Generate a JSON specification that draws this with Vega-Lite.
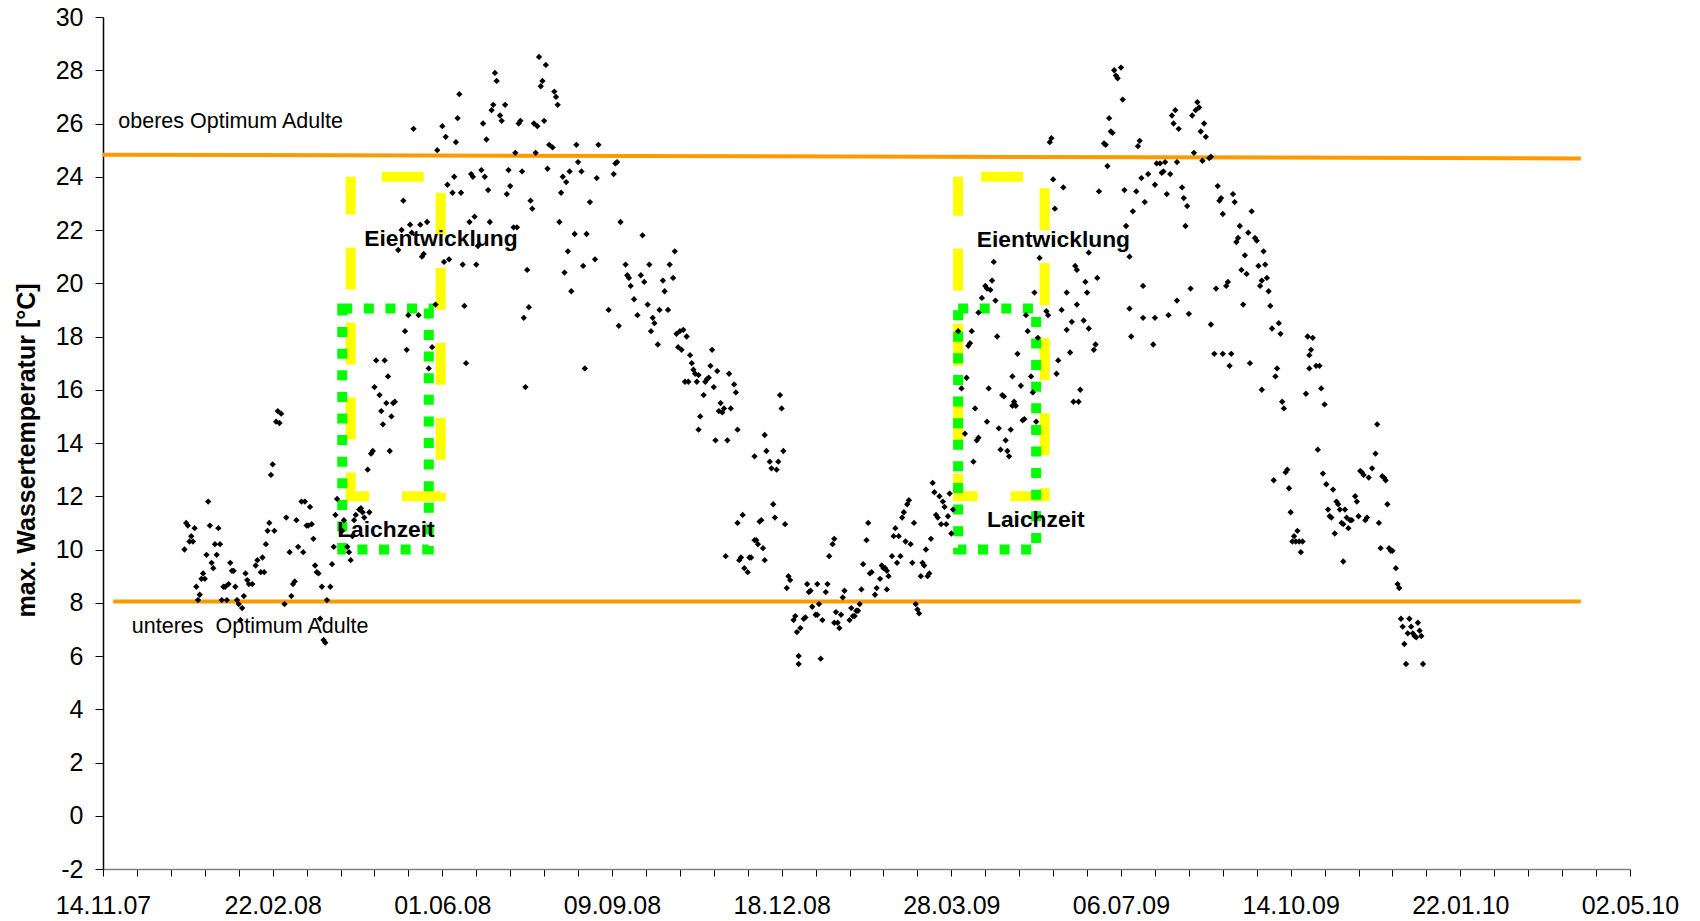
{
  "$schema": "https://vega.github.io/schema/vega-lite/v6.json",
  "width": 1527,
  "height": 852,
  "autosize": "none",
  "padding": {"left": 103, "top": 17, "right": 70, "bottom": 52},
  "background": "white",
  "config": {"view": {"stroke": null}, "font": "Liberation Sans"},
  "encoding": {
    "x": {
      "field": "date", "type": "temporal",
      "scale": {"type": "utc", "domain": [1194998400000, 1272758400000]},
      "axis": {
        "title": null, "grid": false,
        "values": [1194998400000,1196726400000,1198454400000,1200182400000,1201910400000,1203638400000,1205366400000,1207094400000,1208822400000,1210550400000,1212278400000,1214006400000,1215734400000,1217462400000,1219190400000,1220918400000,1222646400000,1224374400000,1226102400000,1227830400000,1229558400000,1231286400000,1233014400000,1234742400000,1236470400000,1238198400000,1239926400000,1241654400000,1243382400000,1245110400000,1246838400000,1248566400000,1250294400000,1252022400000,1253750400000,1255478400000,1257206400000,1258934400000,1260662400000,1262390400000,1264118400000,1265846400000,1267574400000,1269302400000,1271030400000,1272758400000],
        "labelExpr": "round((datum.value - 1194998400000) / 86400000) % 100 == 0 ? utcFormat(datum.value, '%d.%m.%y') : ''",
        "domainColor": "#808080", "domainWidth": 1.5,
        "tickColor": "#000000", "tickSize": 7, "tickWidth": 1,
        "labelFontSize": 25, "labelColor": "#000000", "labelPadding": 17, "labelFont": "Liberation Sans",
        "labelOverlap": false, "labelFlush": false, "labelBound": false
      }
    },
    "y": {
      "field": "temp", "type": "quantitative",
      "scale": {"domain": [-2, 30], "nice": false, "zero": false},
      "axis": {
        "values": [-2,0,2,4,6,8,10,12,14,16,18,20,22,24,26,28,30],
        "labelExpr": "datum.value < 0 ? '-' + abs(datum.value) : '' + datum.value",
        "title": "max. Wassertemperatur [°C]",
        "titleFontSize": 25, "titleFontWeight": "bold", "titleFont": "Liberation Sans", "titleColor": "#000000",
        "titleX": -77, "titleY": 433, "titleAngle": -90, "titleAlign": "center", "titleBaseline": "middle",
        "grid": false, "domainColor": "#000000", "domainWidth": 1.5, "tickColor": "#000000", "tickSize": 8,
        "labelFontSize": 25, "labelPadding": 12, "labelColor": "#000000", "labelFont": "Liberation Sans"
      }
    }
  },
  "layer": [
    {
      "data": {"values": [{"date": "2008-04-08", "date2": "2008-05-31", "temp": 24, "temp2": 12}]},
      "mark": {"type": "rect", "fill": "#FFFF00", "fillOpacity": 0, "stroke": "#FFFF00", "strokeWidth": 10, "strokeDash": [42, 33], "strokeDashOffset": 44},
      "encoding": {"x2": {"field": "date2"}, "y2": {"field": "temp2"}}
    },
    {
      "data": {"values": [{"date": "2009-04-01", "date2": "2009-05-22", "temp": 24, "temp2": 12}]},
      "mark": {"type": "rect", "fill": "#FFFF00", "fillOpacity": 0, "stroke": "#FFFF00", "strokeWidth": 10, "strokeDash": [42, 33], "strokeDashOffset": 52},
      "encoding": {"x2": {"field": "date2"}, "y2": {"field": "temp2"}}
    },
    {
      "data": {"values": [
        {"date": "2008-04-03", "date2": "2008-05-24", "temp": 19.05, "temp2": 10},
        {"date": "2009-04-01", "date2": "2009-05-17", "temp": 19.05, "temp2": 10}
      ]},
      "mark": {"type": "rect", "fill": "#00FF00", "fillOpacity": 0, "stroke": "#00FF00", "strokeWidth": 10, "strokeDash": [10, 11.6]},
      "encoding": {"x2": {"field": "date2"}, "y2": {"field": "temp2"}}
    },
    {
      "data": {"values": [
        {"line": "oben", "date": "2007-11-14", "temp": 24.83},
        {"line": "oben", "date": "2010-04-03", "temp": 24.69},
        {"line": "unten", "date": "2007-11-20", "temp": 8.05},
        {"line": "unten", "date": "2010-04-03", "temp": 8.05}
      ]},
      "mark": {"type": "line", "color": "#FF9900", "strokeWidth": 4},
      "encoding": {"detail": {"field": "line", "type": "nominal"}}
    },
    {
      "data": {"values": [
{"date":"2008-01-01","temp":10.0},{"date":"2008-01-02","temp":11.0},{"date":"2008-01-03","temp":10.9},{"date":"2008-01-04","temp":10.3},{"date":"2008-01-05","temp":10.5},{"date":"2008-01-06","temp":10.3},{"date":"2008-01-07","temp":10.8},{"date":"2008-01-08","temp":8.6},{"date":"2008-01-09","temp":8.1},{"date":"2008-01-10","temp":8.3},{"date":"2008-01-11","temp":8.9},{"date":"2008-01-12","temp":9.1},{"date":"2008-01-13","temp":8.9},{"date":"2008-01-14","temp":9.8},{"date":"2008-01-15","temp":11.8},{"date":"2008-01-16","temp":10.9},{"date":"2008-01-17","temp":9.5},{"date":"2008-01-18","temp":9.3},{"date":"2008-01-19","temp":10.2},{"date":"2008-01-20","temp":9.8},{"date":"2008-01-21","temp":10.8},{"date":"2008-01-22","temp":10.2},{"date":"2008-01-23","temp":8.1},{"date":"2008-01-24","temp":8.6},{"date":"2008-01-25","temp":8.6},{"date":"2008-01-26","temp":8.1},{"date":"2008-01-27","temp":8.7},{"date":"2008-01-28","temp":9.5},{"date":"2008-01-29","temp":9.2},{"date":"2008-01-30","temp":9.2},{"date":"2008-01-31","temp":8.6},
{"date":"2008-02-01","temp":8.1},{"date":"2008-02-02","temp":7.95},{"date":"2008-02-03","temp":7.35},{"date":"2008-02-04","temp":7.8},{"date":"2008-02-05","temp":8.25},{"date":"2008-02-06","temp":9.1},{"date":"2008-02-07","temp":8.85},{"date":"2008-02-08","temp":8.7},{"date":"2008-02-10","temp":8.7},{"date":"2008-02-12","temp":9.4},{"date":"2008-02-13","temp":9.6},{"date":"2008-02-15","temp":9.15},{"date":"2008-02-16","temp":9.7},{"date":"2008-02-17","temp":9.15},{"date":"2008-02-18","temp":10.2},{"date":"2008-02-19","temp":10.7},{"date":"2008-02-20","temp":11.0},{"date":"2008-02-21","temp":12.8},{"date":"2008-02-22","temp":13.2},{"date":"2008-02-23","temp":10.7},{"date":"2008-02-24","temp":14.8},{"date":"2008-02-25","temp":15.2},{"date":"2008-02-26","temp":14.75},{"date":"2008-02-27","temp":15.1},{"date":"2008-02-29","temp":7.95},
{"date":"2008-03-01","temp":11.2},{"date":"2008-03-03","temp":9.9},{"date":"2008-03-04","temp":8.25},{"date":"2008-03-05","temp":8.7},{"date":"2008-03-06","temp":8.8},{"date":"2008-03-07","temp":11.1},{"date":"2008-03-08","temp":10.1},{"date":"2008-03-10","temp":11.8},{"date":"2008-03-11","temp":9.9},{"date":"2008-03-12","temp":11.8},{"date":"2008-03-13","temp":10.9},{"date":"2008-03-14","temp":10.9},{"date":"2008-03-15","temp":11.6},{"date":"2008-03-16","temp":10.95},{"date":"2008-03-17","temp":10.4},{"date":"2008-03-18","temp":9.4},{"date":"2008-03-19","temp":9.15},{"date":"2008-03-20","temp":9.1},{"date":"2008-03-21","temp":7.4},{"date":"2008-03-22","temp":8.6},{"date":"2008-03-23","temp":6.6},{"date":"2008-03-24","temp":6.5},{"date":"2008-03-25","temp":8.1},{"date":"2008-03-27","temp":8.6},{"date":"2008-03-28","temp":9.45},{"date":"2008-03-29","temp":10.1},{"date":"2008-03-30","temp":11.3},{"date":"2008-03-31","temp":11.9},
{"date":"2008-04-03","temp":10.7},{"date":"2008-04-04","temp":11.1},{"date":"2008-04-06","temp":10.1},{"date":"2008-04-07","temp":9.9},{"date":"2008-04-08","temp":9.6},{"date":"2008-04-09","temp":10.5},{"date":"2008-04-10","temp":11.1},{"date":"2008-04-11","temp":11.3},{"date":"2008-04-13","temp":11.5},{"date":"2008-04-14","temp":11.55},{"date":"2008-04-15","temp":11.4},{"date":"2008-04-16","temp":11.2},{"date":"2008-04-18","temp":13.0},{"date":"2008-04-19","temp":11.4},{"date":"2008-04-20","temp":13.6},{"date":"2008-04-21","temp":13.7},{"date":"2008-04-22","temp":16.1},{"date":"2008-04-23","temp":17.1},{"date":"2008-04-25","temp":15.8},{"date":"2008-04-26","temp":15.2},{"date":"2008-04-27","temp":14.7},{"date":"2008-04-28","temp":17.1},{"date":"2008-04-29","temp":15.5},{"date":"2008-04-30","temp":16.5},
{"date":"2008-05-01","temp":13.7},{"date":"2008-05-02","temp":15.0},{"date":"2008-05-03","temp":15.5},{"date":"2008-05-04","temp":15.55},{"date":"2008-05-06","temp":21.25},{"date":"2008-05-08","temp":22.0},{"date":"2008-05-09","temp":23.1},{"date":"2008-05-10","temp":18.2},{"date":"2008-05-11","temp":17.5},{"date":"2008-05-12","temp":18.8},{"date":"2008-05-13","temp":22.2},{"date":"2008-05-14","temp":21.9},{"date":"2008-05-15","temp":25.8},{"date":"2008-05-18","temp":18.8},{"date":"2008-05-19","temp":22.2},{"date":"2008-05-20","temp":21.0},{"date":"2008-05-21","temp":21.1},{"date":"2008-05-23","temp":22.3},{"date":"2008-05-24","temp":16.8},{"date":"2008-05-26","temp":17.6},{"date":"2008-05-28","temp":19.2},{"date":"2008-05-29","temp":25.0},
{"date":"2008-06-01","temp":25.9},{"date":"2008-06-02","temp":20.8},{"date":"2008-06-03","temp":25.5},{"date":"2008-06-04","temp":23.7},{"date":"2008-06-05","temp":20.9},{"date":"2008-06-07","temp":23.4},{"date":"2008-06-08","temp":24.0},{"date":"2008-06-09","temp":25.3},{"date":"2008-06-10","temp":26.2},{"date":"2008-06-11","temp":27.1},{"date":"2008-06-12","temp":23.4},{"date":"2008-06-13","temp":20.7},{"date":"2008-06-14","temp":19.15},{"date":"2008-06-15","temp":17.0},{"date":"2008-06-17","temp":22.3},{"date":"2008-06-18","temp":24.1},{"date":"2008-06-19","temp":24.0},{"date":"2008-06-20","temp":22.5},{"date":"2008-06-21","temp":20.7},{"date":"2008-06-22","temp":21.4},{"date":"2008-06-24","temp":24.25},{"date":"2008-06-25","temp":26.0},{"date":"2008-06-26","temp":24.0},{"date":"2008-06-27","temp":25.4},{"date":"2008-06-28","temp":23.5},{"date":"2008-06-29","temp":22.3},{"date":"2008-06-30","temp":26.5},
{"date":"2008-07-01","temp":26.7},{"date":"2008-07-02","temp":27.9},{"date":"2008-07-03","temp":27.6},{"date":"2008-07-05","temp":26.3},{"date":"2008-07-06","temp":26.1},{"date":"2008-07-08","temp":26.7},{"date":"2008-07-09","temp":23.35},{"date":"2008-07-10","temp":24.25},{"date":"2008-07-11","temp":23.65},{"date":"2008-07-13","temp":22.1},{"date":"2008-07-14","temp":24.9},{"date":"2008-07-15","temp":22.1},{"date":"2008-07-16","temp":26.0},{"date":"2008-07-17","temp":26.1},{"date":"2008-07-18","temp":24.2},{"date":"2008-07-19","temp":18.7},{"date":"2008-07-20","temp":16.1},{"date":"2008-07-21","temp":20.5},{"date":"2008-07-22","temp":19.1},{"date":"2008-07-23","temp":23.1},{"date":"2008-07-24","temp":22.8},{"date":"2008-07-25","temp":26.0},{"date":"2008-07-26","temp":24.9},{"date":"2008-07-27","temp":25.9},{"date":"2008-07-28","temp":28.5},{"date":"2008-07-29","temp":27.4},{"date":"2008-07-30","temp":27.6},{"date":"2008-07-31","temp":26.1},
{"date":"2008-08-01","temp":28.2},{"date":"2008-08-02","temp":24.3},{"date":"2008-08-03","temp":25.2},{"date":"2008-08-05","temp":25.1},{"date":"2008-08-06","temp":27.2},{"date":"2008-08-07","temp":27.0},{"date":"2008-08-08","temp":26.7},{"date":"2008-08-09","temp":22.3},{"date":"2008-08-10","temp":23.4},{"date":"2008-08-11","temp":24.0},{"date":"2008-08-12","temp":20.4},{"date":"2008-08-13","temp":23.8},{"date":"2008-08-14","temp":21.2},{"date":"2008-08-15","temp":24.2},{"date":"2008-08-16","temp":19.7},{"date":"2008-08-18","temp":21.85},{"date":"2008-08-19","temp":25.2},{"date":"2008-08-20","temp":24.55},{"date":"2008-08-22","temp":24.2},{"date":"2008-08-23","temp":20.65},{"date":"2008-08-24","temp":16.8},{"date":"2008-08-25","temp":21.85},{"date":"2008-08-27","temp":23.05},{"date":"2008-08-30","temp":20.9},{"date":"2008-08-31","temp":23.95},
{"date":"2008-09-01","temp":25.2},{"date":"2008-09-07","temp":19.0},{"date":"2008-09-10","temp":24.1},{"date":"2008-09-11","temp":24.5},{"date":"2008-09-12","temp":24.55},{"date":"2008-09-13","temp":18.4},{"date":"2008-09-14","temp":22.3},{"date":"2008-09-17","temp":20.7},{"date":"2008-09-18","temp":20.3},{"date":"2008-09-19","temp":20.2},{"date":"2008-09-20","temp":19.9},{"date":"2008-09-22","temp":19.4},{"date":"2008-09-24","temp":18.8},{"date":"2008-09-26","temp":20.3},{"date":"2008-09-27","temp":21.8},{"date":"2008-09-28","temp":20.05},{"date":"2008-09-30","temp":19.2},
{"date":"2008-10-01","temp":20.7},{"date":"2008-10-02","temp":18.2},{"date":"2008-10-03","temp":18.7},{"date":"2008-10-04","temp":18.5},{"date":"2008-10-06","temp":17.7},{"date":"2008-10-07","temp":19.0},{"date":"2008-10-09","temp":20.1},{"date":"2008-10-10","temp":19.7},{"date":"2008-10-12","temp":19.0},{"date":"2008-10-13","temp":20.7},{"date":"2008-10-15","temp":20.2},{"date":"2008-10-16","temp":21.2},{"date":"2008-10-17","temp":18.1},{"date":"2008-10-18","temp":17.6},{"date":"2008-10-19","temp":18.2},{"date":"2008-10-20","temp":17.5},{"date":"2008-10-21","temp":18.25},{"date":"2008-10-22","temp":16.3},{"date":"2008-10-23","temp":18.0},{"date":"2008-10-24","temp":16.3},{"date":"2008-10-25","temp":17.3},{"date":"2008-10-26","temp":17.0},{"date":"2008-10-27","temp":16.75},{"date":"2008-10-28","temp":16.6},{"date":"2008-10-29","temp":16.3},{"date":"2008-10-30","temp":16.55},{"date":"2008-10-30","temp":14.5},{"date":"2008-10-31","temp":15.0},
{"date":"2008-11-02","temp":15.8},{"date":"2008-11-03","temp":16.3},{"date":"2008-11-04","temp":16.4},{"date":"2008-11-05","temp":16.45},{"date":"2008-11-06","temp":16.9},{"date":"2008-11-07","temp":17.5},{"date":"2008-11-08","temp":16.1},{"date":"2008-11-09","temp":14.1},{"date":"2008-11-10","temp":16.7},{"date":"2008-11-11","temp":15.2},{"date":"2008-11-12","temp":15.5},{"date":"2008-11-13","temp":15.15},{"date":"2008-11-14","temp":15.3},{"date":"2008-11-15","temp":9.75},{"date":"2008-11-16","temp":14.1},{"date":"2008-11-17","temp":16.6},{"date":"2008-11-18","temp":15.3},{"date":"2008-11-20","temp":16.2},{"date":"2008-11-21","temp":15.9},{"date":"2008-11-22","temp":14.5},{"date":"2008-11-22","temp":11.0},{"date":"2008-11-23","temp":9.6},{"date":"2008-11-24","temp":9.7},{"date":"2008-11-25","temp":11.3},{"date":"2008-11-26","temp":9.3},{"date":"2008-11-28","temp":9.15},{"date":"2008-11-29","temp":9.7},{"date":"2008-11-30","temp":9.7},
{"date":"2008-12-02","temp":13.5},{"date":"2008-12-02","temp":10.35},{"date":"2008-12-03","temp":10.35},{"date":"2008-12-04","temp":10.2},{"date":"2008-12-05","temp":11.05},{"date":"2008-12-06","temp":11.1},{"date":"2008-12-07","temp":10.05},{"date":"2008-12-08","temp":14.3},{"date":"2008-12-08","temp":9.6},{"date":"2008-12-09","temp":13.7},{"date":"2008-12-11","temp":13.3},{"date":"2008-12-12","temp":13.05},{"date":"2008-12-13","temp":11.7},{"date":"2008-12-14","temp":11.2},{"date":"2008-12-15","temp":13.0},{"date":"2008-12-16","temp":13.3},{"date":"2008-12-17","temp":15.8},{"date":"2008-12-18","temp":15.3},{"date":"2008-12-19","temp":13.7},{"date":"2008-12-20","temp":10.95},{"date":"2008-12-21","temp":8.55},{"date":"2008-12-22","temp":9.0},{"date":"2008-12-23","temp":8.85},{"date":"2008-12-25","temp":7.35},{"date":"2008-12-26","temp":7.5},{"date":"2008-12-27","temp":6.9},{"date":"2008-12-28","temp":6.0},{"date":"2008-12-28","temp":5.7},{"date":"2008-12-29","temp":7.05},{"date":"2008-12-31","temp":7.4},
{"date":"2009-01-01","temp":7.45},{"date":"2009-01-02","temp":8.7},{"date":"2009-01-03","temp":8.4},{"date":"2009-01-04","temp":8.45},{"date":"2009-01-05","temp":7.85},{"date":"2009-01-07","temp":7.55},{"date":"2009-01-08","temp":8.7},{"date":"2009-01-08","temp":7.55},{"date":"2009-01-09","temp":7.95},{"date":"2009-01-10","temp":5.9},{"date":"2009-01-11","temp":7.35},{"date":"2009-01-13","temp":8.4},{"date":"2009-01-14","temp":8.7},{"date":"2009-01-15","temp":9.75},{"date":"2009-01-17","temp":10.2},{"date":"2009-01-18","temp":10.4},{"date":"2009-01-18","temp":7.25},{"date":"2009-01-19","temp":7.65},{"date":"2009-01-20","temp":7.25},{"date":"2009-01-21","temp":7.05},{"date":"2009-01-22","temp":7.55},{"date":"2009-01-23","temp":8.2},{"date":"2009-01-24","temp":8.45},{"date":"2009-01-27","temp":7.35},{"date":"2009-01-28","temp":7.8},{"date":"2009-01-29","temp":7.5},{"date":"2009-01-30","temp":7.5},{"date":"2009-01-31","temp":7.7},
{"date":"2009-02-01","temp":7.7},{"date":"2009-02-02","temp":7.95},{"date":"2009-02-03","temp":8.5},{"date":"2009-02-04","temp":9.45},{"date":"2009-02-06","temp":10.35},{"date":"2009-02-07","temp":11.0},{"date":"2009-02-08","temp":9.1},{"date":"2009-02-09","temp":9.15},{"date":"2009-02-11","temp":8.3},{"date":"2009-02-12","temp":8.55},{"date":"2009-02-14","temp":8.9},{"date":"2009-02-15","temp":9.4},{"date":"2009-02-16","temp":9.3},{"date":"2009-02-17","temp":9.3},{"date":"2009-02-18","temp":9.2},{"date":"2009-02-18","temp":8.5},{"date":"2009-02-19","temp":9.0},{"date":"2009-02-21","temp":9.75},{"date":"2009-02-22","temp":10.5},{"date":"2009-02-23","temp":10.8},{"date":"2009-02-24","temp":9.5},{"date":"2009-02-25","temp":10.5},{"date":"2009-02-26","temp":9.75},{"date":"2009-02-27","temp":11.2},{"date":"2009-02-28","temp":11.4},
{"date":"2009-03-01","temp":10.3},{"date":"2009-03-02","temp":11.7},{"date":"2009-03-03","temp":11.85},{"date":"2009-03-04","temp":10.2},{"date":"2009-03-05","temp":9.5},{"date":"2009-03-06","temp":11.0},{"date":"2009-03-07","temp":7.95},{"date":"2009-03-08","temp":7.75},{"date":"2009-03-09","temp":7.6},{"date":"2009-03-10","temp":9.0},{"date":"2009-03-11","temp":9.5},{"date":"2009-03-12","temp":9.4},{"date":"2009-03-13","temp":10.0},{"date":"2009-03-14","temp":9.0},{"date":"2009-03-15","temp":9.1},{"date":"2009-03-16","temp":10.4},{"date":"2009-03-17","temp":12.5},{"date":"2009-03-18","temp":12.15},{"date":"2009-03-19","temp":11.3},{"date":"2009-03-20","temp":11.2},{"date":"2009-03-21","temp":12.0},{"date":"2009-03-22","temp":10.95},{"date":"2009-03-23","temp":11.8},{"date":"2009-03-24","temp":11.6},{"date":"2009-03-25","temp":10.95},{"date":"2009-03-26","temp":11.25},{"date":"2009-03-27","temp":12.1},{"date":"2009-03-28","temp":10.6},{"date":"2009-03-29","temp":11.5},
{"date":"2009-04-01","temp":18.2},{"date":"2009-04-03","temp":16.05},{"date":"2009-04-05","temp":14.35},{"date":"2009-04-06","temp":16.45},{"date":"2009-04-07","temp":17.65},{"date":"2009-04-08","temp":17.75},{"date":"2009-04-09","temp":18.2},{"date":"2009-04-10","temp":13.3},{"date":"2009-04-11","temp":15.3},{"date":"2009-04-12","temp":14.1},{"date":"2009-04-13","temp":14.2},{"date":"2009-04-13","temp":18.9},{"date":"2009-04-15","temp":19.45},{"date":"2009-04-17","temp":19.9},{"date":"2009-04-18","temp":19.8},{"date":"2009-04-18","temp":14.8},{"date":"2009-04-19","temp":16.05},{"date":"2009-04-20","temp":19.75},{"date":"2009-04-21","temp":20.1},{"date":"2009-04-22","temp":20.8},{"date":"2009-04-23","temp":19.35},{"date":"2009-04-24","temp":18.0},{"date":"2009-04-25","temp":14.55},{"date":"2009-04-26","temp":13.75},{"date":"2009-04-27","temp":15.8},{"date":"2009-04-28","temp":15.75},{"date":"2009-04-29","temp":14.1},{"date":"2009-04-30","temp":13.7},
{"date":"2009-05-01","temp":13.5},{"date":"2009-05-02","temp":14.5},{"date":"2009-05-03","temp":15.4},{"date":"2009-05-03","temp":16.5},{"date":"2009-05-04","temp":15.55},{"date":"2009-05-05","temp":15.4},{"date":"2009-05-06","temp":17.35},{"date":"2009-05-08","temp":16.15},{"date":"2009-05-09","temp":14.85},{"date":"2009-05-10","temp":14.9},{"date":"2009-05-11","temp":18.8},{"date":"2009-05-12","temp":18.2},{"date":"2009-05-14","temp":16.5},{"date":"2009-05-15","temp":15.9},{"date":"2009-05-16","temp":19.65},{"date":"2009-05-17","temp":14.8},{"date":"2009-05-18","temp":17.95},{"date":"2009-05-19","temp":20.95},{"date":"2009-05-23","temp":18.95},{"date":"2009-05-24","temp":18.8},{"date":"2009-05-25","temp":25.3},{"date":"2009-05-26","temp":25.45},{"date":"2009-05-27","temp":23.9},{"date":"2009-05-28","temp":22.8},{"date":"2009-05-29","temp":16.6},{"date":"2009-05-30","temp":17.1},
{"date":"2009-06-01","temp":19.0},{"date":"2009-06-02","temp":23.6},{"date":"2009-06-04","temp":18.25},{"date":"2009-06-04","temp":19.65},{"date":"2009-06-06","temp":17.4},{"date":"2009-06-07","temp":18.55},{"date":"2009-06-08","temp":15.55},{"date":"2009-06-09","temp":20.65},{"date":"2009-06-10","temp":20.5},{"date":"2009-06-10","temp":19.2},{"date":"2009-06-11","temp":15.55},{"date":"2009-06-12","temp":16.0},{"date":"2009-06-14","temp":18.6},{"date":"2009-06-15","temp":20.05},{"date":"2009-06-16","temp":19.65},{"date":"2009-06-17","temp":21.15},{"date":"2009-06-17","temp":18.3},{"date":"2009-06-20","temp":17.5},{"date":"2009-06-21","temp":17.7},{"date":"2009-06-22","temp":20.2},{"date":"2009-06-23","temp":23.45},{"date":"2009-06-26","temp":25.25},{"date":"2009-06-27","temp":25.2},{"date":"2009-06-28","temp":24.4},{"date":"2009-06-29","temp":26.2},{"date":"2009-06-30","temp":25.7},
{"date":"2009-07-01","temp":25.65},{"date":"2009-07-02","temp":28.0},{"date":"2009-07-03","temp":27.8},{"date":"2009-07-04","temp":27.7},{"date":"2009-07-06","temp":28.1},{"date":"2009-07-07","temp":26.9},{"date":"2009-07-08","temp":23.5},{"date":"2009-07-09","temp":22.15},{"date":"2009-07-11","temp":21.0},{"date":"2009-07-11","temp":19.05},{"date":"2009-07-12","temp":18.0},{"date":"2009-07-13","temp":22.7},{"date":"2009-07-15","temp":23.45},{"date":"2009-07-16","temp":25.15},{"date":"2009-07-17","temp":25.35},{"date":"2009-07-18","temp":23.95},{"date":"2009-07-19","temp":19.9},{"date":"2009-07-19","temp":18.7},{"date":"2009-07-20","temp":23.05},{"date":"2009-07-22","temp":24.1},{"date":"2009-07-25","temp":17.7},{"date":"2009-07-26","temp":23.7},{"date":"2009-07-26","temp":18.7},{"date":"2009-07-27","temp":24.5},{"date":"2009-07-29","temp":24.5},{"date":"2009-07-30","temp":24.15},{"date":"2009-07-31","temp":24.2},
{"date":"2009-08-01","temp":24.55},{"date":"2009-08-02","temp":23.35},{"date":"2009-08-03","temp":18.8},{"date":"2009-08-04","temp":24.1},{"date":"2009-08-05","temp":26.3},{"date":"2009-08-06","temp":26.0},{"date":"2009-08-07","temp":26.5},{"date":"2009-08-08","temp":24.55},{"date":"2009-08-08","temp":19.35},{"date":"2009-08-09","temp":25.8},{"date":"2009-08-11","temp":23.6},{"date":"2009-08-12","temp":23.2},{"date":"2009-08-13","temp":22.15},{"date":"2009-08-14","temp":22.9},{"date":"2009-08-15","temp":18.85},{"date":"2009-08-16","temp":19.8},{"date":"2009-08-17","temp":26.3},{"date":"2009-08-18","temp":24.9},{"date":"2009-08-19","temp":26.5},{"date":"2009-08-20","temp":26.8},{"date":"2009-08-21","temp":26.6},{"date":"2009-08-22","temp":25.7},{"date":"2009-08-23","temp":24.6},{"date":"2009-08-24","temp":26.0},{"date":"2009-08-25","temp":25.5},{"date":"2009-08-27","temp":24.7},{"date":"2009-08-28","temp":24.75},{"date":"2009-08-28","temp":18.45},{"date":"2009-08-30","temp":17.35},{"date":"2009-08-31","temp":19.8},
{"date":"2009-09-01","temp":23.65},{"date":"2009-09-02","temp":23.1},{"date":"2009-09-03","temp":23.2},{"date":"2009-09-04","temp":22.6},{"date":"2009-09-04","temp":17.35},{"date":"2009-09-06","temp":19.9},{"date":"2009-09-07","temp":20.05},{"date":"2009-09-08","temp":16.9},{"date":"2009-09-09","temp":17.35},{"date":"2009-09-10","temp":23.35},{"date":"2009-09-11","temp":23.05},{"date":"2009-09-12","temp":21.55},{"date":"2009-09-13","temp":21.7},{"date":"2009-09-14","temp":22.15},{"date":"2009-09-15","temp":20.5},{"date":"2009-09-16","temp":19.2},{"date":"2009-09-17","temp":21.05},{"date":"2009-09-18","temp":20.35},{"date":"2009-09-19","temp":21.9},{"date":"2009-09-20","temp":17.0},{"date":"2009-09-21","temp":22.7},{"date":"2009-09-23","temp":21.7},{"date":"2009-09-24","temp":21.6},{"date":"2009-09-25","temp":20.65},{"date":"2009-09-26","temp":19.9},{"date":"2009-09-27","temp":20.1},{"date":"2009-09-27","temp":16.0},{"date":"2009-09-28","temp":21.2},{"date":"2009-09-29","temp":20.7},{"date":"2009-09-30","temp":20.2},
{"date":"2009-10-01","temp":19.7},{"date":"2009-10-02","temp":19.15},{"date":"2009-10-03","temp":18.3},{"date":"2009-10-04","temp":12.6},{"date":"2009-10-05","temp":16.5},{"date":"2009-10-06","temp":16.8},{"date":"2009-10-07","temp":18.5},{"date":"2009-10-08","temp":18.1},{"date":"2009-10-09","temp":15.55},{"date":"2009-10-10","temp":15.3},{"date":"2009-10-11","temp":12.9},{"date":"2009-10-12","temp":13.0},{"date":"2009-10-13","temp":12.3},{"date":"2009-10-14","temp":11.4},{"date":"2009-10-15","temp":10.3},{"date":"2009-10-16","temp":10.5},{"date":"2009-10-17","temp":10.3},{"date":"2009-10-18","temp":10.7},{"date":"2009-10-19","temp":10.3},{"date":"2009-10-20","temp":9.9},{"date":"2009-10-21","temp":10.3},{"date":"2009-10-23","temp":15.85},{"date":"2009-10-24","temp":18.0},{"date":"2009-10-25","temp":16.8},{"date":"2009-10-25","temp":17.3},{"date":"2009-10-26","temp":17.5},{"date":"2009-10-27","temp":17.95},{"date":"2009-10-29","temp":16.9},{"date":"2009-10-30","temp":13.75},{"date":"2009-10-31","temp":16.9},
{"date":"2009-11-01","temp":16.05},{"date":"2009-11-02","temp":12.85},{"date":"2009-11-03","temp":15.45},{"date":"2009-11-04","temp":12.45},{"date":"2009-11-05","temp":11.5},{"date":"2009-11-06","temp":11.25},{"date":"2009-11-07","temp":11.2},{"date":"2009-11-08","temp":12.25},{"date":"2009-11-09","temp":10.6},{"date":"2009-11-10","temp":11.8},{"date":"2009-11-11","temp":11.7},{"date":"2009-11-12","temp":11.5},{"date":"2009-11-13","temp":11.0},{"date":"2009-11-14","temp":10.95},{"date":"2009-11-14","temp":9.55},{"date":"2009-11-15","temp":11.5},{"date":"2009-11-16","temp":11.2},{"date":"2009-11-17","temp":10.8},{"date":"2009-11-18","temp":11.1},{"date":"2009-11-19","temp":11.1},{"date":"2009-11-21","temp":12.0},{"date":"2009-11-22","temp":11.8},{"date":"2009-11-23","temp":11.25},{"date":"2009-11-24","temp":12.95},{"date":"2009-11-25","temp":12.9},{"date":"2009-11-26","temp":12.8},{"date":"2009-11-27","temp":11.1},{"date":"2009-11-28","temp":11.2},{"date":"2009-11-29","temp":12.7},
{"date":"2009-12-01","temp":13.05},{"date":"2009-12-03","temp":13.6},{"date":"2009-12-04","temp":14.7},{"date":"2009-12-05","temp":11.0},{"date":"2009-12-06","temp":10.05},{"date":"2009-12-07","temp":12.75},{"date":"2009-12-08","temp":12.7},{"date":"2009-12-09","temp":12.6},{"date":"2009-12-10","temp":11.7},{"date":"2009-12-11","temp":10.05},{"date":"2009-12-12","temp":9.95},{"date":"2009-12-13","temp":9.95},{"date":"2009-12-15","temp":9.3},{"date":"2009-12-16","temp":8.7},{"date":"2009-12-17","temp":8.55},{"date":"2009-12-18","temp":7.4},{"date":"2009-12-19","temp":7.1},{"date":"2009-12-20","temp":6.45},{"date":"2009-12-21","temp":5.7},{"date":"2009-12-22","temp":6.85},{"date":"2009-12-23","temp":7.4},{"date":"2009-12-24","temp":7.1},{"date":"2009-12-25","temp":6.85},{"date":"2009-12-26","temp":6.75},{"date":"2009-12-27","temp":6.7},{"date":"2009-12-28","temp":7.25},{"date":"2009-12-29","temp":6.95},{"date":"2009-12-30","temp":6.75},{"date":"2009-12-31","temp":5.7}
      ]},
      "mark": {"type": "point", "shape": "diamond", "filled": true, "color": "#000000", "size": 40, "opacity": 1, "strokeWidth": 0}
    },
    {
      "data": {"values": [
        {"label": "oberes Optimum Adulte", "date": "2007-11-23", "temp": 26.04},
        {"label": "unteres\u00a0\u00a0Optimum Adulte", "date": "2007-12-01", "temp": 7.1}
      ]},
      "mark": {"type": "text", "align": "left", "baseline": "middle", "fontSize": 21.5, "font": "Liberation Sans", "color": "#000000"},
      "encoding": {"text": {"field": "label"}}
    },
    {
      "data": {"values": [
        {"label": "Eientwicklung", "date": "2008-04-16", "temp": 21.65},
        {"label": "Eientwicklung", "date": "2009-04-12", "temp": 21.62},
        {"label": "Laichzeit", "date": "2008-03-31", "temp": 10.73},
        {"label": "Laichzeit", "date": "2009-04-18", "temp": 11.1}
      ]},
      "mark": {"type": "text", "align": "left", "baseline": "middle", "fontSize": 22.8, "fontWeight": "bold", "font": "Liberation Sans", "color": "#000000"},
      "encoding": {"text": {"field": "label"}}
    }
  ]
}
